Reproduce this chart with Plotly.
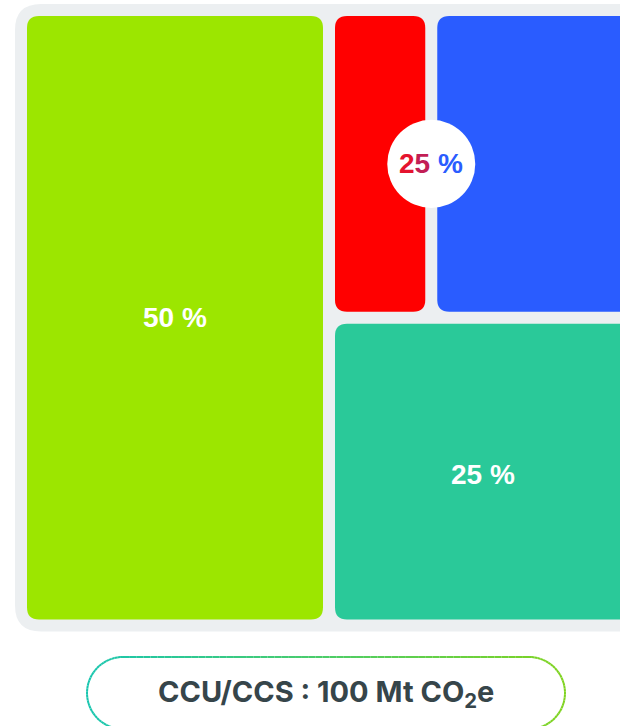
import numpy as np
import plotly.graph_objects as go

# ---------------- data ----------------
segment_names = ["Segment A", "Segment B1", "Segment B2", "Segment C"]
segment_values = [50, 8.3, 16.7, 25]          # shares in %
label_texts = ["50 %", "25 %", "25 %"]          # green, red+blue, teal
total_label = "CCU/CCS : 100 Mt CO<sub>2</sub>e"

# ---------------- styles ----------------
tile_colors = ["#9CE600", "#FF0000", "#2A5CFF", "#2AC999"]
panel_color = "#ECEFF1"
W, H = 620, 726

# pixel frame of the treemap (outer bounds incl. half gaps)
L_PX, R_PX, T_PX, B_PX = 21, 637, 10, 625.5
sx = (R_PX - L_PX) / 100.0
sy = (B_PX - T_PX) / 100.0
HALF_GAP = 6.0      # px
TILE_R = 12.0       # px
PANEL_PAD = 12.0    # px
PANEL_R = 26.0      # px

x_range = [-L_PX / sx, (W - L_PX) / sx]
y_range = [-(H - B_PX) / sy, B_PX / sy]

# ---------------- slice-dice layout from values ----------------
v_a, v_b1, v_b2, v_c = segment_values
tot = sum(segment_values)
x_split = 100.0 * v_a / tot
v_top = v_b1 + v_b2
y_split = 100.0 * v_c / (v_top + v_c)
x_split2 = x_split + (100.0 - x_split) * v_b1 / v_top

rects = [
    (0, x_split, 0, 100),
    (x_split, x_split2, y_split, 100),
    (x_split2, 100, y_split, 100),
    (x_split, 100, 0, y_split),
]

hx, hy = HALF_GAP / sx, HALF_GAP / sy
rects = [(a + hx, b - hx, c + hy, d - hy) for a, b, c, d in rects]


def rounded(x0, x1, y0, y1, r_px):
    rx, ry = r_px / sx, r_px / sy
    return (f"M {x0+rx},{y0} L {x1-rx},{y0} Q {x1},{y0} {x1},{y0+ry} "
            f"L {x1},{y1-ry} Q {x1},{y1} {x1-rx},{y1} L {x0+rx},{y1} "
            f"Q {x0},{y1} {x0},{y1-ry} L {x0},{y0+ry} Q {x0},{y0} {x0+rx},{y0} Z")


shapes = []
# panel
px0 = min(r[0] for r in rects) - PANEL_PAD / sx
px1 = max(r[1] for r in rects) + PANEL_PAD / sx
py0 = min(r[2] for r in rects) - PANEL_PAD / sy
py1 = max(r[3] for r in rects) + PANEL_PAD / sy
shapes.append(dict(type="path", xref="x", yref="y", path=rounded(px0, px1, py0, py1, PANEL_R),
                   fillcolor=panel_color, line=dict(width=0), layer="below"))
for (x0, x1, y0, y1), col in zip(rects, tile_colors):
    shapes.append(dict(type="path", xref="x", yref="y", path=rounded(x0, x1, y0, y1, TILE_R),
                       fillcolor=col, line=dict(width=0), layer="below"))

# circle badge between red and blue tiles
cx = (rects[1][1] + rects[2][0]) / 2
cy = (rects[1][2] + rects[1][3]) / 2
CR = 44.0
shapes.append(dict(type="circle", xref="x", yref="y",
                   x0=cx - CR / sx, x1=cx + CR / sx, y0=cy - CR / sy, y1=cy + CR / sy,
                   fillcolor="white", line=dict(width=0), layer="below"))

# pill with gradient border (paper coords)
def ppx(x):
    return x / W


def ppy(y):
    return 1 - y / H


pl, pr, pc, prad = 87, 565, 693, 36
c0 = np.array([0x19, 0xC6, 0xB0])
c1 = np.array([0x80, 0xD4, 0x20])
pts = []
for t in np.linspace(pl + prad, pr - prad, 60):
    pts.append((t, pc - prad))
for a in np.linspace(-np.pi / 2, np.pi / 2, 40):
    pts.append((pr - prad + prad * np.cos(a), pc + prad * np.sin(a)))
for t in np.linspace(pr - prad, pl + prad, 60):
    pts.append((t, pc + prad))
for a in np.linspace(np.pi / 2, 3 * np.pi / 2, 40):
    pts.append((pl + prad + prad * np.cos(a), pc + prad * np.sin(a)))
for i in range(len(pts) - 1):
    (xa, ya), (xb, yb) = pts[i], pts[i + 1]
    f = ((xa + xb) / 2 - pl) / (pr - pl)
    c = (c0 * (1 - f) + c1 * f).astype(int)
    shapes.append(dict(type="path", xref="paper", yref="paper",
                       path=f"M {ppx(xa)},{ppy(ya)} L {ppx(xb)},{ppy(yb)}",
                       line=dict(color=f"rgb({c[0]},{c[1]},{c[2]})", width=2)))

# ---------------- annotations ----------------
lab_font = dict(family="Liberation Sans, Arial, sans-serif", size=28, color="white")
annotations = []
centers = [((rects[0][0] + rects[0][1]) / 2, (rects[0][2] + rects[0][3]) / 2),
           ((rects[3][0] + rects[3][1]) / 2, (rects[3][2] + rects[3][3]) / 2)]
for (x, y), txt, ys in zip(centers, [label_texts[0], label_texts[2]], [0, -3]):
    annotations.append(dict(x=x, y=y, xref="x", yref="y", text=f"<b>{txt}</b>",
                            xanchor="center", yanchor="middle", yshift=ys,
                            showarrow=False, font=lab_font))
num, pct = label_texts[1].split(" ")
annotations.append(dict(
    x=cx, y=cy, xref="x", yref="y", showarrow=False, font=lab_font,
    xanchor="center", yanchor="middle",
    text=(f"<b><span style='color:#E5132E'>{num[0]}</span>"
          f"<span style='color:#C21E55'>{num[1]}</span> "
          f"<span style='color:#2A5CFF'>{pct}</span></b>")))
annotations.append(dict(x=ppx((pl + pr) / 2), y=ppy(pc), xref="paper", yref="paper",
                        xanchor="center", yanchor="middle",
                        showarrow=False, text=f"<b>{total_label}</b>",
                        font=dict(family="Inter, sans-serif", size=29, color="#36454A")))

fig = go.Figure()
fig.add_trace(go.Scatter(
    x=[(r[0] + r[1]) / 2 for r in rects], y=[(r[2] + r[3]) / 2 for r in rects],
    mode="markers", marker=dict(opacity=0), text=segment_names,
    hovertemplate="%{text}<extra></extra>", showlegend=False))
fig.update_layout(
    width=W, height=H, margin=dict(l=0, r=0, t=0, b=0),
    paper_bgcolor="white", plot_bgcolor="white",
    xaxis=dict(range=x_range, visible=False, fixedrange=True),
    yaxis=dict(range=y_range, visible=False, fixedrange=True),
    shapes=shapes, annotations=annotations, showlegend=False,
)
fig.write_html("out.html")
